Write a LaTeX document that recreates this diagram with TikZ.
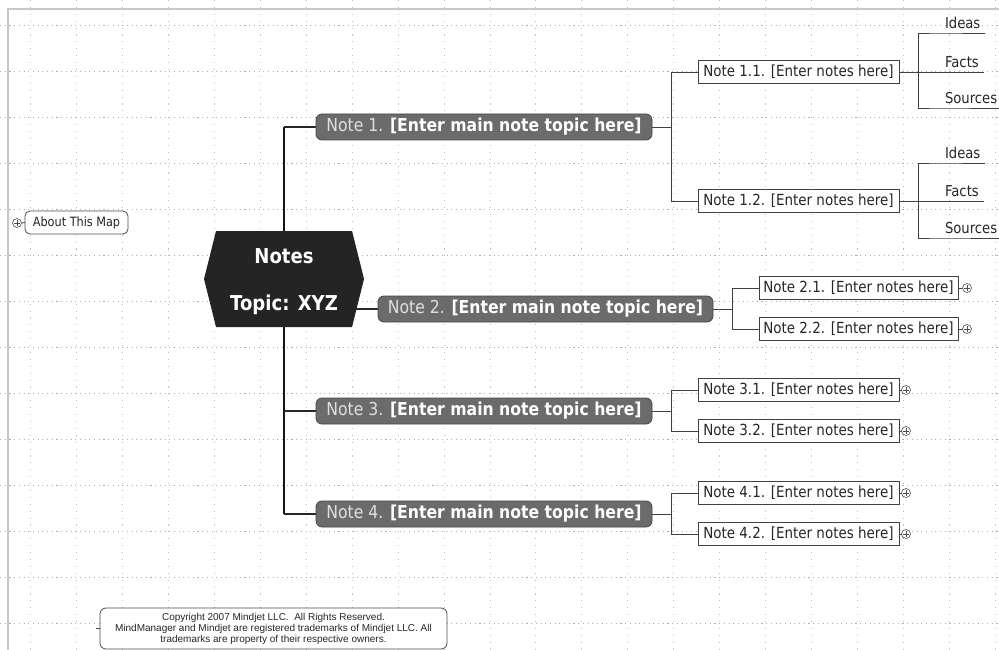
\documentclass[tikz,border=0pt]{standalone}
\usepackage{fontspec}
\setmainfont{DejaVu Sans}[FakeStretch=0.88]
\newfontfamily\notefont{Liberation Sans}
\pgfdeclarelayer{grid}
\pgfdeclarelayer{background}
\pgfsetlayers{grid,background,main}
\begin{document}
\begin{tikzpicture}[x=1pt,y=-1pt,
  every node/.style={inner sep=0pt,outer sep=0pt},
  hgrid/.style={black!32,line width=0.7,dash pattern=on 1.1pt off 3.6pt},
  vgrid/.style={black!25,line width=0.7,dash pattern=on 1.1pt off 5.8pt},
  frameline/.style={black!22,line width=1.4},
  trunk/.style={black!92,line width=2.8},
  branch/.style={black!85,line width=1.5},
  sub/.style={black!75,line width=0.8},
  mainbox/.style={draw=black!72,fill=black!58,line width=0.8,rounded corners=6,
    minimum height=26,text=white,font=\fontsize{17.8}{20}\selectfont},
  subbox/.style={draw=black!75,fill=white,line width=0.8,minimum width=201,
    minimum height=23,text=black!85,anchor=west,font=\fontsize{15.3}{18}\selectfont},
  leaf/.style={anchor=south west,inner xsep=5,inner ysep=4.5,text depth=0pt,
    text=black!85,font=\fontsize{15}{18}\selectfont},
  plus/.style={circle,draw=black!70,line width=0.6,minimum size=9,fill=white,
    path picture={\draw[black!70,line width=0.6]
      ([xshift=-2.6]path picture bounding box.center) -- ([xshift=2.6]path picture bounding box.center)
      ([yshift=-2.6]path picture bounding box.center) -- ([yshift=2.6]path picture bounding box.center);}},
  hexfill/.style={fill=black!86}
]
\useasboundingbox (0,0) rectangle (999,650);

% page grid and frame
\begin{pgfonlayer}{grid}
  \fill[white] (0,0) rectangle (999,650);
  \foreach \i in {0,...,13} \draw[hgrid] (0,25+\i*46) -- (999,25+\i*46);
  \foreach \i in {0,...,21} \draw[vgrid] (30.5+\i*45.94,0) -- (30.5+\i*45.94,650);
  \draw[frameline] (999,9) -- (8,9) -- (8,650);
\end{pgfonlayer}

% central topic
\node[minimum width=160,minimum height=96,text=white,align=center,
  font=\fontsize{20.5}{47}\selectfont\bfseries] (topic) at (284,279)
  {\rule{0pt}{21pt}Notes\\Topic: XYZ};

% main topics
\node[mainbox,minimum width=336] (note1) at (484,127)
  {{\color{black!12}Note 1.} \textbf{[Enter main note topic here]}};
\node[mainbox,minimum width=335] (note2) at (545.5,309)
  {{\color{black!12}Note 2.} \textbf{[Enter main note topic here]}};
\node[mainbox,minimum width=336] (note3) at (484,411)
  {{\color{black!12}Note 3.} \textbf{[Enter main note topic here]}};
\node[mainbox,minimum width=336] (note4) at (484,514)
  {{\color{black!12}Note 4.} \textbf{[Enter main note topic here]}};

% subtopics
\node[subbox] (n11) at (698,72)  {Note 1.1. [Enter notes here]};
\node[subbox] (n12) at (698,201) {Note 1.2. [Enter notes here]};
\node[subbox,minimum width=199] (n21) at (759,288) {Note 2.1. [Enter notes here]};
\node[subbox,minimum width=199] (n22) at (759,329) {Note 2.2. [Enter notes here]};
\node[subbox] (n31) at (698,390) {Note 3.1. [Enter notes here]};
\node[subbox] (n32) at (698,431) {Note 3.2. [Enter notes here]};
\node[subbox] (n41) at (698,493) {Note 4.1. [Enter notes here]};
\node[subbox] (n42) at (698,534) {Note 4.2. [Enter notes here]};

% underlined leaf topics
\node[leaf] (i1) at (940,33)  {Ideas};
\node[leaf] (f1) at (940,72)  {Facts};
\node[leaf] (s1) at (940,108) {Sources};
\node[leaf] (i2) at (940,163) {Ideas};
\node[leaf] (f2) at (940,201) {Facts};
\node[leaf] (s2) at (940,238) {Sources};

% collapsed-branch markers
\node[plus] (p21) at (967,288) {};
\node[plus] (p22) at (967,329) {};
\node[plus] (p31) at (906,390) {};
\node[plus] (p32) at (906,431) {};
\node[plus] (p41) at (906,493) {};
\node[plus] (p42) at (906,534) {};

% floating topics
\node[draw=black!70,fill=white,line width=0.8,rounded corners=5,minimum width=103,
  minimum height=23,text=black!85,font=\fontsize{12.8}{15}\selectfont]
  (about) at (76.5,222.5) {About This Map};
\node[plus] (pab) at (17,223) {};
\node[draw=black!70,fill=white,line width=0.8,rounded corners=6,minimum width=347,
  minimum height=41,align=center,text=black!85,font=\notefont\fontsize{10}{11}\selectfont]
  (copy) at (273.5,628.5)
  {Copyright 2007 Mindjet LLC.\ \ All Rights Reserved.\\
   MindManager and Mindjet are registered trademarks of Mindjet LLC. All\\
   trademarks are property of their respective owners.};

% junction points of the subtopic brackets
\coordinate (j1) at ([xshift=19]note1.east);
\coordinate (j2) at ([xshift=19]note2.east);
\coordinate (j3) at ([xshift=19]note3.east);
\coordinate (j4) at ([xshift=19]note4.east);
\coordinate (k1) at ([xshift=19]n11.east);
\coordinate (k2) at ([xshift=19]n12.east);

\begin{pgfonlayer}{background}
  % trunk and main branches
  \draw[trunk] (topic.center |- note1.west) -- (topic.center |- note4.west);
  \draw[branch] (topic.center |- note1.west) -- (note1.west);
  \draw[branch] (topic.center |- note2.west) -- (note2.west);
  \draw[branch] (topic.center |- note3.west) -- (note3.west);
  \draw[branch] (topic.center |- note4.west) -- (note4.west);
  % subtopic brackets
  \foreach \m/\a/\b in {1/n11/n12,2/n21/n22,3/n31/n32,4/n41/n42}{
    \draw[sub] (note\m.east) -- (j\m);
    \draw[sub] (\a.west) -| (j\m);
    \draw[sub] (\b.west) -| (j\m);
  }
  % leaf brackets with underlines
  \foreach \k/\i/\f/\s in {1/i1/f1/s1,2/i2/f2/s2}{
    \draw[sub] (n1\k.east) -- (k\k);
    \draw[sub] (\i.south east) -- (\i.south west) -| (k\k);
    \draw[sub] (\f.south east) -- (k\k);
    \draw[sub] (\s.south east) -- (\s.south west) -| (k\k);
  }
  % stubs to the markers
  \foreach \a/\p in {n21/p21,n22/p22,n31/p31,n32/p32,n41/p41,n42/p42}
    \draw[sub] (\a.east) -- (\p.west);
  \draw[sub] (pab.east) -- (about.west);
  \draw[sub] (copy.west) -- ++(-4,0);
  % hexagonal body of the central topic, under its text
  \fill[hexfill] (topic.west) -- ([xshift=12]topic.north west) -- ([xshift=-12]topic.north east)
    -- (topic.east) -- ([xshift=-12]topic.south east) -- ([xshift=12]topic.south west) -- cycle;
\end{pgfonlayer}
\end{tikzpicture}
\end{document}
